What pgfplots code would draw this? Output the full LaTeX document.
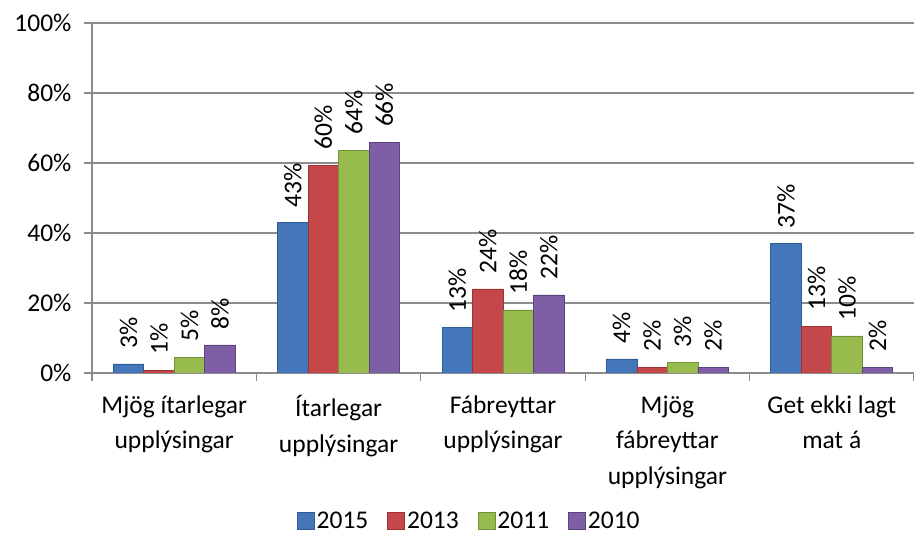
\documentclass[border=0pt]{standalone}
\usepackage{fontspec}
\setmainfont{Carlito}
\usepackage{pgfplots}
\pgfplotsset{compat=1.18}

\definecolor{b15}{HTML}{4477BA}
\definecolor{b15d}{HTML}{2E5C94}
\definecolor{b13}{HTML}{C4474A}
\definecolor{b13d}{HTML}{9E3431}
\definecolor{b11}{HTML}{98BB4E}
\definecolor{b11d}{HTML}{72923A}
\definecolor{b10}{HTML}{7E5FA6}
\definecolor{b10d}{HTML}{5A437C}
\definecolor{gridgray}{HTML}{8C8C8C}

\newcommand{\bigfont}{\fontsize{25.5}{31.5}\selectfont}

\begin{document}
\begin{tikzpicture}
\useasboundingbox (0,0) rectangle (914pt,538pt);
\begin{axis}[
    at={(92pt,165pt)}, anchor=south west,
    width=822pt, height=350pt, scale only axis,
    ybar=0pt, bar width=30.5pt,
    xmin=-0.5, xmax=4.5,
    ymin=0, ymax=100,
    xtick={0,...,4},
    xticklabels={Mjög ítarlegar\\[4pt]upplýsingar, Ítarlegar\\[4pt]upplýsingar,
        Fábreyttar\\[4pt]upplýsingar, Mjög\\[4pt]fábreyttar\\[4pt]upplýsingar,
        Get ekki lagt\\[4pt]mat á},
    major x tick style={draw=none},
    minor xtick={-0.5,0.5,...,4.5},
    ytick={0,20,...,100},
    yticklabels={0\%,20\%,40\%,60\%,80\%,100\%},
    tick align=outside,
    major tick length=8pt, minor tick length=8pt,
    tick style={gridgray, line width=1.2pt},
    axis x line*=bottom, axis y line*=left,
    axis line style={gridgray, line width=1.2pt},
    ymajorgrids,
    major grid style={gridgray, line width=1.2pt},
    every tick label/.append style={font=\bigfont},
    xticklabel style={align=center, yshift=-11pt},
    yticklabel style={xshift=-9pt},
    nodes near coords,
    point meta=explicit symbolic,
    every node near coord/.append style={rotate=90, anchor=west,
        inner xsep=15pt, font=\bigfont, black},
    legend style={at={(0.459,-0.423)}, anchor=center, draw=none,
        legend columns=4, font=\bigfont,
        /tikz/every even column/.append style={column sep=17pt}},
    legend image code/.code={\draw[#1] (0pt,-8.5pt) rectangle (17pt,8.5pt);},
]
\addplot[draw=b15d, fill=b15, line width=0.7pt]
    coordinates {(0,2.6) [3\%] (1,42.9) [43\%] (2,12.9) [13\%] (3,4.0) [4\%] (4,37.0) [37\%]};
\addplot[draw=b13d, fill=b13, line width=0.7pt]
    coordinates {(0,0.8) [1\%] (1,59.4) [60\%] (2,24.0) [24\%] (3,1.7) [2\%] (4,13.4) [13\%]};
\addplot[draw=b11d, fill=b11, line width=0.7pt]
    coordinates {(0,4.5) [5\%] (1,63.7) [64\%] (2,18.0) [18\%] (3,2.9) [3\%] (4,10.6) [10\%]};
\addplot[draw=b10d, fill=b10, line width=0.7pt]
    coordinates {(0,8.0) [8\%] (1,65.9) [66\%] (2,22.3) [22\%] (3,1.7) [2\%] (4,1.7) [2\%]};
\legend{2015,2013,2011,2010}
\end{axis}
\end{tikzpicture}
\end{document}
